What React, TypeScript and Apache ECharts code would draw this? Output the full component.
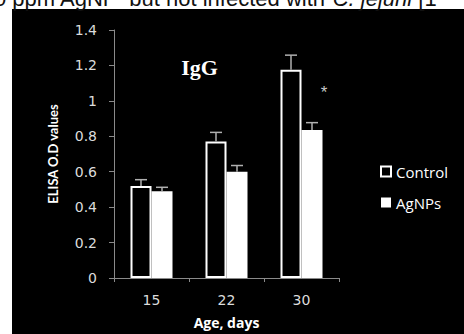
import React, { useEffect, useRef } from "react";
import * as echarts from "echarts";

const categories = ["15", "22", "30"];
const controlValues = [0.52, 0.77, 1.175];
const controlErrors = [0.035, 0.052, 0.083];
const agnpValues = [0.49, 0.6, 0.836];
const agnpErrors = [0.022, 0.035, 0.041];
const yTicks = { min: 0, max: 1.4, interval: 0.2 };

export default function App() {
  const ref = useRef<HTMLDivElement>(null);
  useEffect(() => {
    document.body.style.margin = "0";
    const chart = echarts.init(ref.current!, null, { renderer: "svg" });
    const errSeries = (vals: number[], errs: number[], side: number, name: string) => ({
      type: "custom",
      name,
      z: 5,
      silent: true,
      data: vals.map((v, i) => [i, v, errs[i]]),
      encode: { x: 0, y: 1 },
      renderItem: (params: any, api: any) => {
        const c = api.value(0);
        const v = api.value(1);
        const e = api.value(2);
        const p0 = api.coord([c, v]);
        const p1 = api.coord([c, v + e]);
        const x = p0[0] + side * 10.5;
        return {
          type: "group",
          children: [
            { type: "line", shape: { x1: x, y1: p0[1], x2: x, y2: p1[1] }, style: { stroke: "#b0b0b0", lineWidth: 1.5 } },
            { type: "line", shape: { x1: x - 6, y1: p1[1], x2: x + 6, y2: p1[1] }, style: { stroke: "#b0b0b0", lineWidth: 1.5 } },
          ],
        };
      },
    });
    const uiFont = "'Open Sans', 'DejaVu Sans', sans-serif";
    chart.setOption({
      animation: false,
      backgroundColor: "#000000",
      graphic: [
        { type: "rect", z: 10, shape: { x: 0, y: 0, width: 464, height: 9 }, style: { fill: "#fff" } },
        { type: "rect", z: 10, shape: { x: 0, y: 0, width: 12, height: 334 }, style: { fill: "#fff" } },
        {
          type: "text",
          z: 20,
          x: -6,
          y: -2,
          style: {
            text: "0 ppm AgNP  but not infected with {i|C. jejuni} [1",
            font: "22px 'Liberation Sans', Arial, sans-serif",
            fill: "#111",
            verticalAlign: "middle",
            rich: { i: { fontStyle: "italic", font: "italic 22px 'Liberation Sans', Arial, sans-serif", fill: "#111" } },
          },
        } as any,
        {
          type: "text",
          x: 218,
          y: 67,
          style: { text: "IgG", font: "bold 22px 'Liberation Serif', 'Times New Roman', serif", fill: "#fff", align: "right", verticalAlign: "middle" },
        },
        {
          type: "text",
          x: 324,
          y: 92,
          style: { text: "*", font: "17px 'Liberation Sans', sans-serif", fill: "#c8c8c8", align: "center", verticalAlign: "middle" },
        },
      ],
      grid: { left: 114, right: 125, top: 30, bottom: 55.3, containLabel: false },
      legend: {
        orient: "vertical",
        left: 375,
        top: 159,
        itemWidth: 10,
        itemHeight: 10,
        itemGap: 16,
        icon: "rect",
        textStyle: { color: "#fff", fontSize: 15, fontFamily: uiFont },
        data: ["Control", "AgNPs"],
      },
      xAxis: {
        type: "category",
        data: categories,
        name: "Age, days",
        nameLocation: "middle",
        nameGap: 37,
        nameTextStyle: { color: "#fff", fontWeight: "bold", fontSize: 14, fontFamily: uiFont },
        axisLine: { lineStyle: { color: "#8a8a8a", width: 1 } },
        axisTick: { show: true, alignWithLabel: false, length: 4, lineStyle: { color: "#8a8a8a" } },
        axisLabel: { color: "#dcdcdc", fontSize: 14, margin: 15, fontFamily: "'DejaVu Sans', sans-serif" },
      },
      yAxis: {
        type: "value",
        min: yTicks.min,
        max: yTicks.max,
        interval: yTicks.interval,
        name: "ELISA O.D values",
        nameLocation: "middle",
        nameRotate: 90,
        nameGap: 55,
        nameTextStyle: { color: "#fff", fontWeight: "bold", fontSize: 13, fontFamily: "Lato, 'Open Sans', sans-serif" },
        splitLine: { show: false },
        axisLine: { show: true, lineStyle: { color: "#8a8a8a", width: 1 } },
        axisTick: { show: true, inside: false, length: 5, lineStyle: { color: "#8a8a8a" } },
        axisLabel: {
          color: "#dcdcdc",
          fontSize: 14,
          margin: 17,
          fontFamily: "'DejaVu Sans', sans-serif",
          formatter: (v: number) => String(Math.round(v * 10) / 10),
        },
      },
      series: [
        {
          type: "bar",
          name: "Control",
          data: controlValues,
          barWidth: 21,
          barGap: "0%",
          itemStyle: { color: "#000", borderColor: "#fff", borderWidth: 2 },
        },
        {
          type: "bar",
          name: "AgNPs",
          data: agnpValues,
          barWidth: 21,
          barGap: "0%",
          itemStyle: { color: "#fff", borderColor: "#fff", borderWidth: 0 },
        },
        errSeries(controlValues, controlErrors, -1, "errC"),
        errSeries(agnpValues, agnpErrors, 1, "errA"),
      ],
    });
    return () => chart.dispose();
  }, []);
  return <div ref={ref} style={{ width: 464, height: 334 }} />;
}
